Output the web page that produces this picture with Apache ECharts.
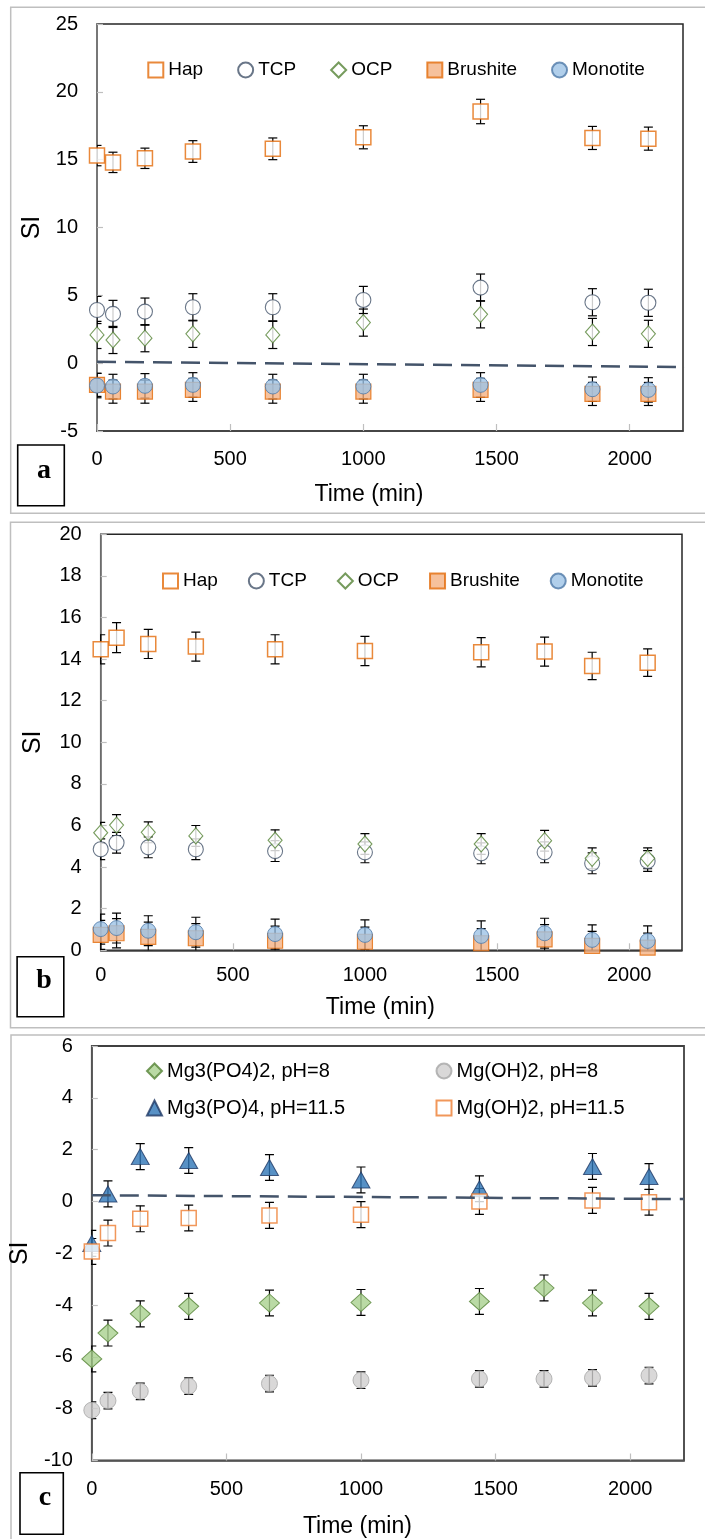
<!DOCTYPE html>
<html>
<head>
<meta charset="utf-8">
<script src="https://cdn.jsdelivr.net/npm/echarts@6/dist/echarts.min.js"></script>
<style>
html,body{margin:0;padding:0;background:#fff;}
#chart{width:705px;height:1539px;}
</style>
</head>
<body>
<div id="chart"></div>
<script>
// ---------- DATA ----------
const xTickLabels = [0, 500, 1000, 1500, 2000];

// Panel a
const timeA = [0, 60, 180, 360, 660, 1000, 1440, 1860, 2070];
const hapA = [15.3, 14.8, 15.1, 15.6, 15.8, 16.65, 18.55, 16.6, 16.55];
const hapAErr = [0.75, 0.75, 0.75, 0.8, 0.8, 0.85, 0.9, 0.85, 0.85];
const tcpA = [3.92, 3.63, 3.8, 4.12, 4.12, 4.66, 5.57, 4.49, 4.45];
const tcpAErr = [1.0, 1.0, 1.0, 1.0, 1.0, 1.0, 1.0, 1.0, 1.0];
const ocpA = [2.08, 1.71, 1.84, 2.16, 2.08, 2.99, 3.6, 2.3, 2.16];
const ocpAErr = [1.0, 1.0, 1.0, 1.0, 1.0, 1.0, 1.0, 1.0, 1.0];
const brushA = [-1.6, -2.1, -2.1, -1.97, -2.1, -2.1, -1.97, -2.27, -2.27];
const brushAErr = [0.85, 0.85, 0.85, 0.85, 0.85, 0.85, 0.85, 0.85, 0.85];
const monoA = [-1.65, -1.72, -1.67, -1.6, -1.72, -1.72, -1.6, -1.92, -1.97];
const monoAErr = [0.9, 0.9, 0.9, 0.9, 0.9, 0.9, 0.9, 0.9, 0.9];
const dashAx = [0, 2285];
const dashAy = [0.1, -0.295];

// Panel b
const timeB = [0, 60, 180, 360, 660, 1000, 1440, 1680, 1860, 2070];
const hapB = [14.47, 15.03, 14.73, 14.6, 14.47, 14.39, 14.33, 14.36, 13.67, 13.83];
const hapBErr = [0.7, 0.72, 0.7, 0.7, 0.7, 0.7, 0.7, 0.7, 0.66, 0.66];
const tcpB = [4.86, 5.17, 4.95, 4.86, 4.77, 4.71, 4.66, 4.71, 4.18, 4.29];
const tcpBErr = [0.5, 0.5, 0.5, 0.5, 0.5, 0.5, 0.5, 0.5, 0.5, 0.5];
const ocpB = [5.65, 6.02, 5.67, 5.5, 5.29, 5.11, 5.11, 5.27, 4.42, 4.42];
const ocpBErr = [0.5, 0.5, 0.5, 0.5, 0.5, 0.5, 0.5, 0.5, 0.5, 0.5];
const brushB = [0.74, 0.82, 0.65, 0.58, 0.46, 0.41, 0.34, 0.53, 0.21, 0.13];
const brushBErr = [0.7, 0.7, 0.7, 0.7, 0.7, 0.7, 0.7, 0.7, 0.7, 0.7];
const monoB = [1.02, 1.07, 0.94, 0.87, 0.78, 0.74, 0.69, 0.82, 0.5, 0.45];
const monoBErr = [0.72, 0.72, 0.72, 0.72, 0.72, 0.72, 0.72, 0.72, 0.72, 0.72];

// Panel c
const timeC = [0, 60, 180, 360, 660, 1000, 1440, 1680, 1860, 2070];
const timeC2 = [0, 60, 180, 360, 660, 1000, 1440, 1860, 2070];
const mgpo8 = [-6.08, -5.08, -4.34, -4.05, -3.92, -3.9, -3.86, -3.34, -3.92, -4.05];
const mgpo8Err = [0.5, 0.5, 0.5, 0.5, 0.5, 0.5, 0.5, 0.5, 0.5, 0.5];
const mgoh8 = [-8.06, -7.69, -7.33, -7.13, -7.03, -6.9, -6.85, -6.85, -6.81, -6.72];
const mgoh8Err = [0.32, 0.32, 0.32, 0.32, 0.32, 0.32, 0.32, 0.32, 0.32, 0.32];
const mgpo115 = [-1.62, 0.29, 1.73, 1.58, 1.31, 0.83, 0.49, 1.35, 0.96];
const mgpo115Err = [0.5, 0.5, 0.5, 0.5, 0.5, 0.5, 0.5, 0.5, 0.5];
const mgoh115 = [-1.93, -1.22, -0.67, -0.64, -0.54, -0.51, 0.0, 0.04, -0.03];
const mgoh115Err = [0.5, 0.5, 0.5, 0.5, 0.5, 0.5, 0.5, 0.5, 0.5];
const dashCx = [0, 2200];
const dashCy = [0.24, 0.09];

const legendAB = ['Hap', 'TCP', 'OCP', 'Brushite', 'Monotite'];
const legendC = ['Mg3(PO4)2, pH=8', 'Mg(OH)2, pH=8', 'Mg3(PO)4, pH=11.5', 'Mg(OH)2, pH=11.5'];

// ---------- STYLE ----------
const SANS = "'Liberation Sans',Arial,sans-serif";
const SERIF = "'Liberation Serif','Times New Roman',serif";

const styles = {
  'Hap': {symbol: 'rect', size: 15, itemStyle: {color: '#ffffff', borderColor: '#E46C0A', borderWidth: 1.5}},
  'TCP': {symbol: 'circle', size: 15, itemStyle: {color: '#ffffff', borderColor: '#44546A', borderWidth: 1.1}},
  'OCP': {symbol: 'diamond', size: [14, 16], itemStyle: {color: '#ffffff', borderColor: '#548235', borderWidth: 1.1}},
  'Brushite': {symbol: 'rect', size: 15, itemStyle: {color: '#F4B183', borderColor: '#E46C0A', borderWidth: 1.2}},
  'Monotite': {symbol: 'circle', size: 15, itemStyle: {color: '#9DC3E6', borderColor: '#4F79A8', borderWidth: 1}},
  'Mg3(PO4)2, pH=8': {symbol: 'diamond', size: [20, 18], itemStyle: {color: '#A9D18E', borderColor: '#548235', borderWidth: 1}},
  'Mg(OH)2, pH=8': {symbol: 'circle', size: 16, itemStyle: {color: '#D0CECE', borderColor: '#A6A6A6', borderWidth: 1}},
  'Mg3(PO)4, pH=11.5': {symbol: 'triangle', size: [18, 16], itemStyle: {color: '#2E75B6', borderColor: '#1F3864', borderWidth: 1}},
  'Mg(OH)2, pH=11.5': {symbol: 'rect', size: 15, itemStyle: {color: '#ffffff', borderColor: '#ED7D31', borderWidth: 1.5}}
};

const series = [];
function addSeries(grid, name, xs, ys, errs) {
  const st = styles[name];
  series.push({
    type: 'custom', name: name + ' err', xAxisIndex: grid, yAxisIndex: grid,
    clip: true, silent: true, z: 2,
    data: xs.map((x, i) => [x, ys[i] - errs[i], ys[i] + errs[i]]),
    renderItem: function (params, api) {
      const x = api.value(0);
      const lo = api.coord([x, api.value(1)]);
      const hi = api.coord([x, api.value(2)]);
      const hw = 4.5;
      const s = {stroke: '#000', lineWidth: 1.2};
      return {type: 'group', children: [
        {type: 'line', shape: {x1: lo[0], y1: lo[1], x2: hi[0], y2: hi[1]}, style: s},
        {type: 'line', shape: {x1: lo[0] - hw, y1: lo[1], x2: lo[0] + hw, y2: lo[1]}, style: s},
        {type: 'line', shape: {x1: hi[0] - hw, y1: hi[1], x2: hi[0] + hw, y2: hi[1]}, style: s}
      ]};
    }
  });
  series.push({
    type: 'scatter', name: name, xAxisIndex: grid, yAxisIndex: grid, z: 3,
    symbol: st.symbol, symbolSize: st.size, itemStyle: st.itemStyle,
    data: xs.map((x, i) => [x, ys[i]])
  });
}
function addDash(grid, xs, ys, clip) {
  series.push({
    type: 'line', name: 'SI=0', xAxisIndex: grid, yAxisIndex: grid, z: 4,
    symbol: 'none', clip: clip, silent: true,
    lineStyle: {color: '#44546A', width: 2.5, type: [19, 9]},
    data: xs.map((x, i) => [x, ys[i]])
  });
}

// panel a
addSeries(0, 'Hap', timeA, hapA, hapAErr);
addSeries(0, 'TCP', timeA, tcpA, tcpAErr);
addSeries(0, 'OCP', timeA, ocpA, ocpAErr);
addSeries(0, 'Brushite', timeA, brushA, brushAErr);
addSeries(0, 'Monotite', timeA, monoA, monoAErr);
addDash(0, dashAx, dashAy, false);
// panel b
addSeries(1, 'Hap', timeB, hapB, hapBErr);
addSeries(1, 'TCP', timeB, tcpB, tcpBErr);
addSeries(1, 'OCP', timeB, ocpB, ocpBErr);
addSeries(1, 'Brushite', timeB, brushB, brushBErr);
addSeries(1, 'Monotite', timeB, monoB, monoBErr);
// panel c
addSeries(2, 'Mg3(PO4)2, pH=8', timeC, mgpo8, mgpo8Err);
addSeries(2, 'Mg(OH)2, pH=8', timeC, mgoh8, mgoh8Err);
addSeries(2, 'Mg3(PO)4, pH=11.5', timeC2, mgpo115, mgpo115Err);
addSeries(2, 'Mg(OH)2, pH=11.5', timeC2, mgoh115, mgoh115Err);
addDash(2, dashCx, dashCy, true);

// ---------- AXES ----------
function xAxis(grid, margin, nameGap, padRight, lineColor) {
  return {
    type: 'value', gridIndex: grid, min: xTickLabels[0], max: 2200, interval: xTickLabels[1] - xTickLabels[0],
    axisLine: {show: true, onZero: false, lineStyle: {color: lineColor, width: 1.6}},
    axisTick: {show: true, inside: true, length: 7, lineStyle: {color: '#BFBFBF', width: 1.2}},
    axisLabel: {showMaxLabel: false, margin: margin, fontFamily: SANS, fontSize: 20, lineHeight: 20, color: '#000',
      formatter: function (v) { return String(v); }},
    splitLine: {show: false},
    name: 'Time (min)', nameLocation: 'middle', nameGap: nameGap,
    nameTextStyle: {fontFamily: SANS, fontSize: 23, lineHeight: 23, color: '#000', padding: [0, padRight, 0, 0]}
  };
}
function yAxis(grid, min, max, interval, nameGap, lineColor) {
  return {
    type: 'value', gridIndex: grid, min: min, max: max, interval: interval,
    axisLine: {show: true, onZero: false, lineStyle: {color: lineColor, width: 1.6}},
    axisTick: {show: true, inside: true, length: 6, lineStyle: {color: '#BFBFBF', width: 1.2}},
    axisLabel: {margin: 19, fontFamily: SANS, fontSize: 20, color: '#000'},
    splitLine: {show: false},
    name: 'SI', nameLocation: 'middle', nameGap: nameGap,
    nameTextStyle: {fontFamily: SANS, fontSize: 25, lineHeight: 25, color: '#000'}
  };
}

function legend(left, top, data, fontSize) {
  return {
    left: left, top: top, orient: 'horizontal', padding: 0, itemGap: 34,
    itemWidth: 15, itemHeight: 15, selectedMode: false, data: data,
    textStyle: {fontFamily: SANS, fontSize: fontSize, lineHeight: 20, color: '#000'}
  };
}
const legA = legend(147.3, 60, legendAB, 19);
const legB = legend(162, 571, legendAB, 19); legB.itemGap = 30;

function boxGraphic(x, y, w, h, letter, tx, ty) {
  return [
    {type: 'rect', shape: {x: x, y: y, width: w, height: h}, style: {fill: '#fff', stroke: '#000', lineWidth: 1.6}, z: 10},
    {type: 'text', x: tx, y: ty, style: {text: letter, fontFamily: SERIF, fontWeight: 'bold', fontSize: 28, fill: '#000', align: 'center', verticalAlign: 'middle'}, z: 11}
  ];
}

const option = {
  animation: false,
  backgroundColor: '#fff',
  grid: [
    {left: 97, top: 24, width: 586, height: 407, show: true, borderColor: '#262626', borderWidth: 1.5, backgroundColor: 'transparent'},
    {left: 100.7, top: 534.3, width: 581.3, height: 416, show: true, borderColor: '#262626', borderWidth: 1.5, backgroundColor: 'transparent'},
    {left: 91.3, top: 1046, width: 592.7, height: 415, show: true, borderColor: '#404040', borderWidth: 1.8, backgroundColor: 'transparent'}
  ],
  xAxis: [
    xAxis(0, 18.7, 52.5, 42, '#404040'),
    xAxis(1, 14.7, 45.5, 22, '#404040'),
    xAxis(2, 19, 54.5, 61, '#595959')
  ],
  yAxis: [
    yAxis(0, -5, 25, 5, 51, '#7F7F7F'),
    yAxis(1, 0, 20, 2, 54.7, '#7F7F7F'),
    yAxis(2, -10, 6, 2, 45.3, '#595959')
  ],
  legend: [
    legA, legB,
    legend(146, 1061, [legendC[0]], 20),
    legend(435.5, 1061, [legendC[1]], 20),
    legend(146, 1098, [legendC[2]], 20),
    legend(435.5, 1098, [legendC[3]], 20)
  ],
  graphic: [
    {type: 'rect', shape: {x: 10.7, y: 7.3, width: 720, height: 506}, style: {fill: 'none', stroke: '#BFBFBF', lineWidth: 1.5}, z: -1},
    {type: 'rect', shape: {x: 10.5, y: 522.3, width: 720, height: 505.5}, style: {fill: 'none', stroke: '#BFBFBF', lineWidth: 1.5}, z: -1},
    {type: 'rect', shape: {x: 11, y: 1035, width: 720, height: 540}, style: {fill: 'none', stroke: '#BFBFBF', lineWidth: 1.5}, z: -1}
  ].concat(
    boxGraphic(17.7, 445, 46.6, 60.7, 'a', 44, 470.5),
    boxGraphic(17.1, 956.7, 46.7, 60, 'b', 44, 980.5),
    boxGraphic(20, 1472.7, 43.3, 61.6, 'c', 45, 1498)
  ),
  series: series
};

const chart = echarts.init(document.getElementById('chart'), null, {renderer: 'canvas'});
chart.setOption(option);
</script>
</body>
</html>
